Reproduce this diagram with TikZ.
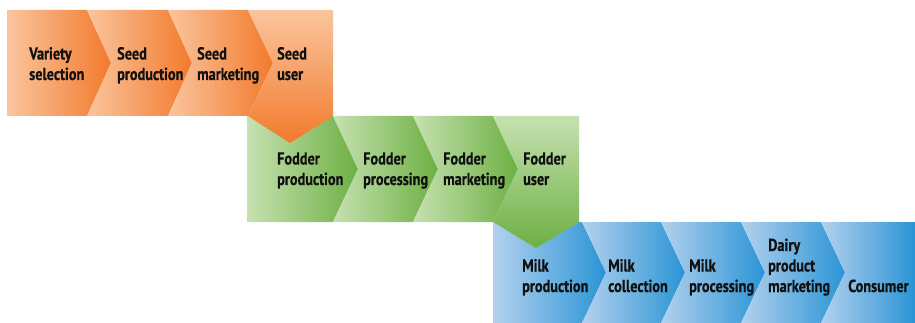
\documentclass[tikz,border=0pt]{standalone}
\usepackage{fontspec}
\setmainfont{PT Sans}[FakeStretch=0.82, BoldFeatures={FakeBold=0.6}]
\definecolor{ol}{HTML}{FAC59E}
\definecolor{od}{HTML}{F27A2C}
\definecolor{gl}{HTML}{C6E1B1}
\definecolor{gd}{HTML}{6DB043}
\definecolor{bl}{HTML}{B3D1EE}
\definecolor{bd}{HTML}{2A94D5}
\definecolor{txt}{HTML}{111111}
\tikzset{
  lbl/.style={anchor=base west, inner sep=0pt, text=txt, font=\bfseries\fontsize{17.4}{20.5}\selectfont},
  oh/.style={left color=ol, right color=od},
  gh/.style={left color=gl, right color=gd},
  bh/.style={left color=bl, right color=bd},
}
\newcommand{\lns}[1]{\begin{tabular}[b]{@{}l@{}}#1\end{tabular}}
\begin{document}
\begin{tikzpicture}[x=1pt,y=-1pt]
\useasboundingbox (0,0) rectangle (915,323);
% ---------- blue row (y 222..323, mid 272.5)
\shade[bh] (493,222) -- (582,222) -- (606,272.5) -- (582,323) -- (493,323) -- cycle;
\shade[bh] (582,222) -- (661,222) -- (685,272.5) -- (661,323) -- (582,323) -- (606,272.5) -- cycle;
\shade[bh] (661,222) -- (741,222) -- (765,272.5) -- (741,323) -- (661,323) -- (685,272.5) -- cycle;
\shade[bh] (741,222) -- (821,222) -- (845,272.5) -- (821,323) -- (741,323) -- (765,272.5) -- cycle;
\shade[bh] (821,222) -- (915,222) -- (915,323) -- (821,323) -- (845,272.5) -- cycle;
% ---------- green row (y 116..222, mid 169)
\shade[gh] (247,116) -- (333,116) -- (358,169) -- (333,222) -- (247,222) -- cycle;
\shade[gh] (333,116) -- (413,116) -- (438,169) -- (413,222) -- (333,222) -- (358,169) -- cycle;
\shade[gh] (413,116) -- (493,116) -- (518,169) -- (493,222) -- (413,222) -- (438,169) -- cycle;
\shade[top color=gl, bottom color=gd] (493,116) -- (579,116) -- (579,222) -- (536,248) -- (493,222) -- (518,169) -- cycle;
% ---------- orange row (y 10..116, mid 63)
\shade[oh] (7,10) -- (87,10) -- (111,63) -- (87,116) -- (7,116) -- cycle;
\shade[oh] (87,10) -- (168,10) -- (192,63) -- (168,116) -- (87,116) -- (111,63) -- cycle;
\shade[oh] (168,10) -- (248,10) -- (273,63) -- (248,116) -- (168,116) -- (192,63) -- cycle;
\shade[top color=ol, bottom color=od] (248,10) -- (333,10) -- (333,116) -- (290,143) -- (248,116) -- (273,63) -- cycle;
% ---------- labels
\node[lbl] (t1) at (29,80) {\lns{Variety\\selection}};
\node[lbl] (t2) at (117,80) {\lns{Seed\\production}};
\node[lbl] (t3) at (197,80) {\lns{Seed\\marketing}};
\node[lbl] (t4) at (277,80) {\lns{Seed\\user}};
\node[lbl] (f1) at (277,185) {\lns{Fodder\\production}};
\node[lbl] (f2) at (363,185) {\lns{Fodder\\processing}};
\node[lbl] (f3) at (443,185) {\lns{Fodder\\marketing}};
\node[lbl] (f4) at (523,185) {\lns{Fodder\\user}};
\node[lbl] (m1) at (522,292) {\lns{Milk\\production}};
\node[lbl] (m2) at (608,292) {\lns{Milk\\collection}};
\node[lbl] (m3) at (689,292) {\lns{Milk\\processing}};
\node[lbl] (m4) at (768,292) {\lns{Dairy\\product\\marketing}};
\node[lbl] (m5) at (848,292) {\lns{Consumer}};
\end{tikzpicture}
\end{document}
